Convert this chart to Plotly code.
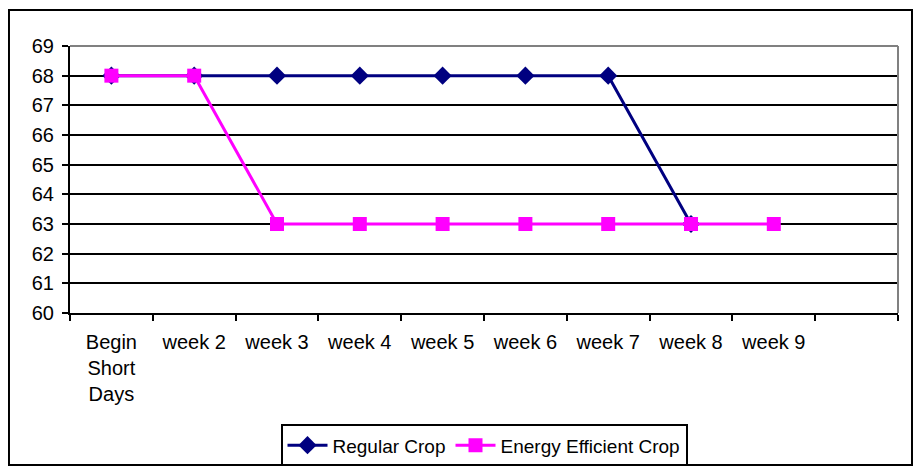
import plotly.graph_objects as go

categories = ["Begin<br>Short<br>Days", "week 2", "week 3", "week 4", "week 5",
              "week 6", "week 7", "week 8", "week 9", " "]
regular_crop = [68, 68, 68, 68, 68, 68, 68, 63, None, None]
energy_efficient_crop = [68, 68, 63, 63, 63, 63, 63, 63, 63, None]

FONT = "Liberation Sans, Arial, sans-serif"

fig = go.Figure()
fig.add_trace(go.Scatter(
    x=categories, y=regular_crop, name="Regular Crop", mode="lines+markers",
    line=dict(color="#000080", width=3),
    marker=dict(symbol="diamond", size=14, color="#000080"),
))
fig.add_trace(go.Scatter(
    x=categories, y=energy_efficient_crop, name="Energy Efficient Crop", mode="lines+markers",
    line=dict(color="#FF00FF", width=3),
    marker=dict(symbol="square", size=14, color="#FF00FF"),
))

fig.update_layout(
    width=905, height=458,
    margin=dict(l=62, r=15, t=38, b=153),
    paper_bgcolor="white", plot_bgcolor="white",
    font=dict(family=FONT, size=20, color="black"),
    showlegend=True,
    legend=dict(orientation="h", x=0.5, xanchor="center",
                yref="container", y=0.091, yanchor="top",
                bordercolor="black", borderwidth=2, font=dict(size=19),
                itemwidth=40, tracegroupgap=0),
    xaxis=dict(type="category", categoryorder="array", categoryarray=categories,
               range=[-0.5, 9.5], showgrid=False, showline=True, linecolor="black",
               linewidth=2, ticks="outside", tickson="boundaries", ticklen=6,
               tickwidth=2, tickcolor="black", ticklabelstandoff=10,
               zeroline=False, automargin=False),
    yaxis=dict(range=[60, 69], dtick=1, showgrid=True, gridcolor="black", gridwidth=2,
               showline=True, linecolor="black", linewidth=2, ticks="outside",
               ticklen=6, tickwidth=2, tickcolor="black", zeroline=False,
               ticklabelstandoff=4, automargin=False),
    shapes=[
        dict(type="line", xref="paper", yref="paper", x0=0, x1=1, y0=1, y1=1,
             line=dict(color="#808080", width=2), layer="above"),
        dict(type="line", xref="paper", yref="paper", x0=1, x1=1, y0=0, y1=1,
             line=dict(color="#808080", width=2), layer="above"),
        dict(type="rect", xref="paper", yref="paper", x0=-0.0737, x1=1.0169,
             y0=-0.5693, y1=1.1348, line=dict(color="black", width=2),
             fillcolor="rgba(0,0,0,0)", layer="below"),
    ],
)

fig.write_html("out.html")
